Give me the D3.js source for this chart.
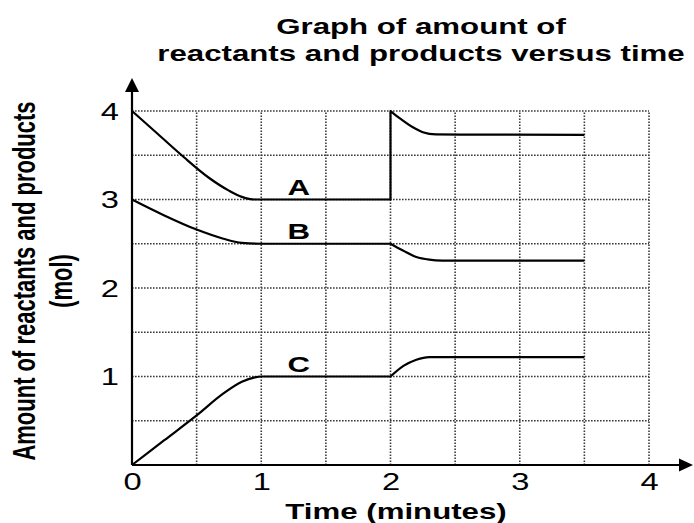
<!DOCTYPE html>
<html>
<head>
<meta charset="utf-8">
<script src="https://cdn.jsdelivr.net/npm/d3@7"></script>
<style>
  html, body { margin: 0; padding: 0; background: #fff; }
  svg { display: block; }
  text { font-family: "Liberation Sans", Arial, sans-serif; fill: #000; }
</style>
</head>
<body>
<svg id="chart" width="694" height="523"></svg>
<script>
// Time axis (minutes) and amount axis (mol)
const xTicks = [0, 1, 2, 3, 4];
const yTicks = [1, 2, 3, 4];

// Series A: reactant, before and after the disturbance at t = 2 min
const timeA1 = [0, 0.2, 0.4, 0.6, 0.75, 0.85, 0.95, 1.0, 2.0];
const amountA1 = [4, 3.74, 3.48, 3.24, 3.1, 3.03, 3.0, 3.0, 3.0];
const timeA2 = [2.0, 2.07, 2.18, 2.25, 2.35, 3.5];
const amountA2 = [4.0, 3.92, 3.81, 3.76, 3.735, 3.73];

// Series B: reactant
const timeB1 = [0, 0.25, 0.5, 0.7, 0.85, 1.0, 2.0];
const amountB1 = [3, 2.82, 2.66, 2.56, 2.51, 2.5, 2.5];
const timeB2 = [2.0, 2.1, 2.2, 2.3, 2.4, 3.5];
const amountB2 = [2.5, 2.42, 2.35, 2.32, 2.31, 2.31];

// Series C: product
const timeC1 = [0, 0.25, 0.5, 0.7, 0.85, 0.95, 1.0, 2.0];
const amountC1 = [0, 0.28, 0.56, 0.8, 0.94, 0.99, 1.0, 1.0];
const timeC2 = [2.0, 2.1, 2.2, 2.3, 3.5];
const amountC2 = [1.0, 1.12, 1.19, 1.22, 1.22];

const seriesNames = ["A", "B", "C"];
const labelTime = 1.29;
const labelLevel = [3, 2.5, 1];

const svg = d3.select("#chart");
const SX = 1.42; // horizontal stretch of the lettering

const x = d3.scaleLinear().domain([0, 4]).range([132, 649]);
const y = d3.scaleLinear().domain([0, 4]).range([465, 111]);

// Dotted grid every half unit
const half = d3.range(0.5, 4.01, 0.5);
const grid = svg.append("g")
  .attr("stroke", "#3a3a3a")
  .attr("stroke-width", 1.6)
  .attr("stroke-dasharray", "1.6,1.4")
  .attr("fill", "none");
grid.selectAll("line.h").data(half).join("line")
  .attr("class", "h")
  .attr("x1", x(0)).attr("x2", x(4))
  .attr("y1", d => y(d)).attr("y2", d => y(d));
grid.selectAll("line.v").data(half).join("line")
  .attr("class", "v")
  .attr("y1", y(0)).attr("y2", y(4))
  .attr("x1", d => x(d)).attr("x2", d => x(d));

// Axes with arrowheads
const axisG = svg.append("g");
axisG.append("line")
  .attr("x1", x(0)).attr("x2", 682).attr("y1", y(0)).attr("y2", y(0))
  .attr("stroke", "#000").attr("stroke-width", 2.2);
axisG.append("line")
  .attr("x1", x(0)).attr("x2", x(0)).attr("y1", y(0)).attr("y2", 88)
  .attr("stroke", "#000").attr("stroke-width", 2.2);
axisG.append("path")
  .attr("d", `M693,${y(0)} L679,${y(0) - 6.5} L679,${y(0) + 6.5} Z`)
  .attr("fill", "#000");
axisG.append("path")
  .attr("d", `M${x(0)},78 L${x(0) - 7},92 L${x(0) + 7},92 Z`)
  .attr("fill", "#000");

// Tick labels
const xAxis = svg.append("g")
  .attr("transform", `translate(0,${y(0)})`)
  .call(d3.axisBottom(x).tickValues(xTicks).tickSize(0).tickFormat(d3.format("d")));
xAxis.select(".domain").remove();
xAxis.selectAll("text")
  .attr("y", 0).attr("dy", null)
  .attr("transform", `translate(0,25) scale(${SX},1)`)
  .style("font-size", "23px")
  .style("font-family", "'Liberation Sans', Arial, sans-serif")
  .attr("fill", "#000");

const yAxis = svg.append("g")
  .attr("transform", `translate(${x(0)},0)`)
  .call(d3.axisLeft(y).tickValues(yTicks).tickSize(0).tickFormat(d3.format("d")));
yAxis.select(".domain").remove();
yAxis.selectAll("text")
  .attr("x", 0).attr("dy", "0.36em")
  .attr("transform", `translate(-13,0) scale(${SX},1)`)
  .style("font-size", "23px")
  .style("font-family", "'Liberation Sans', Arial, sans-serif")
  .attr("fill", "#000");

// Curves
const line = d3.line()
  .x(d => x(d[0])).y(d => y(d[1]))
  .curve(d3.curveMonotoneX);
const zip = (t, v) => t.map((ti, i) => [ti, v[i]]);
const curvePath = (t1, v1, t2, v2) =>
  line(zip(t1, v1)) + line(zip(t2, v2)).replace(/^M/, "L");

const curves = [
  curvePath(timeA1, amountA1, timeA2, amountA2),
  curvePath(timeB1, amountB1, timeB2, amountB2),
  curvePath(timeC1, amountC1, timeC2, amountC2)
];
svg.append("g").selectAll("path").data(curves).join("path")
  .attr("d", d => d)
  .attr("fill", "none")
  .attr("stroke", "#000")
  .attr("stroke-width", 2.2)
  .attr("stroke-linejoin", "round");

// Series names
svg.append("g").selectAll("text").data(seriesNames).join("text")
  .attr("transform", (d, i) => `translate(${x(labelTime)},${y(labelLevel[i]) - 5}) scale(${SX},1)`)
  .attr("text-anchor", "middle")
  .style("font-size", "22px")
  .style("font-weight", "bold")
  .text(d => d);

// Titles
const title = svg.append("g").style("font-weight", "bold").style("font-size", "22px");
title.append("text")
  .attr("transform", `translate(421,34) scale(${SX},1)`)
  .attr("text-anchor", "middle")
  .text("Graph of amount of");
title.append("text")
  .attr("transform", `translate(421,61) scale(${SX},1)`)
  .attr("text-anchor", "middle")
  .text("reactants and products versus time");

svg.append("text")
  .attr("transform", `translate(396,519) scale(${SX},1)`)
  .attr("text-anchor", "middle")
  .style("font-weight", "bold").style("font-size", "22px")
  .text("Time (minutes)");

svg.append("text")
  .attr("transform", `translate(35,281) rotate(-90) scale(1,${SX})`)
  .attr("text-anchor", "middle")
  .style("font-weight", "bold").style("font-size", "22px")
  .text("Amount of reactants and products");
svg.append("text")
  .attr("transform", `translate(72,281) rotate(-90) scale(1,${SX})`)
  .attr("text-anchor", "middle")
  .style("font-weight", "bold").style("font-size", "22px")
  .text("(mol)");
</script>
</body>
</html>
